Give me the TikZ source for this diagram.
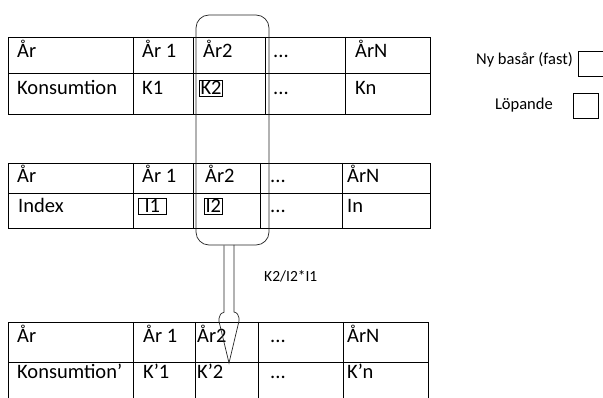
\documentclass[tikz,border=0pt]{standalone}
\usepackage{fontspec}
\setmainfont{Carlito}
\begin{document}
\begin{tikzpicture}[x=1pt,y=-1pt,
  cell/.style={anchor=base west, inner sep=0pt, font=\fontsize{20.5}{24}\selectfont},
  boxed/.style={cell, draw, line width=0.6pt, inner sep=1.2pt},
  legend/.style={anchor=east, inner sep=0pt, font=\fontsize{16.5}{20}\selectfont},
  lbox/.style={draw, line width=0.7pt, minimum width=25pt, minimum height=25pt, inner sep=0pt},
  grid/.style={line width=0.9pt, black},
  thin/.style={line width=0.7pt, black!85}]
\useasboundingbox (0,0) rectangle (603,398);

% ---------- table 1
\draw[grid] (8,37) rectangle (430,114);
\draw[grid] (8,73) -- (430,73);
\foreach \x in {133,193,265,345} \draw[grid] (\x,37) -- (\x,114);
\node[cell] (t1a) at (17,58) {År};
\node[cell] (t1b) at (142,58) {År 1};
\node[cell] (t1c) at (203,58) {År2};
\node[cell] (t1d) at (273,58) {...};
\node[cell] (t1e) at (355,58) {ÅrN};
\node[cell] (t1f) at (17,95) {Konsumtion};
\node[cell] (t1g) at (142,95) {K1};
\node[boxed] (t1h) at (199,95) {K2};
\node[cell] (t1i) at (273,95) {...};
\node[cell] (t1j) at (355,95) {Kn};

% ---------- table 2
\draw[grid] (8,163) rectangle (430,228);
\draw[grid] (8,193) -- (430,193);
\foreach \x in {133,193,260,342} \draw[grid] (\x,163) -- (\x,228);
\node[cell] (t2a) at (17,183) {År};
\node[cell] (t2b) at (142,183) {År 1};
\node[cell] (t2c) at (205,183) {År2};
\node[cell] (t2d) at (270,183) {...};
\node[cell] (t2e) at (347,183) {ÅrN};
\node[cell] (t2f) at (18,213) {Index};
\node[boxed,minimum width=28pt] (t2g) at (138,213) {I1};
\node[boxed] (t2h) at (204,213) {I2};
\node[cell] (t2i) at (270,213) {...};
\node[cell] (t2j) at (347,213) {In};

% ---------- table 3
\draw[grid] (8,400) -- (8,322) -- (428,322) -- (428,400);
\draw[grid] (8,362) -- (428,362);
\foreach \x in {133,195,258,343} \draw[grid] (\x,322) -- (\x,400);
\node[cell] (t3a) at (17,343) {År};
\node[cell] (t3b) at (143,343) {År 1};
\node[cell] (t3c) at (197,343) {År2};
\node[cell] (t3d) at (270,343) {...};
\node[cell] (t3e) at (347,343) {ÅrN};
\node[cell] (t3f) at (17,378) {Konsumtion’};
\node[cell] (t3g) at (143,378) {K’1};
\node[cell] (t3h) at (197,378) {K’2};
\node[cell] (t3i) at (270,378) {...};
\node[cell] (t3j) at (347,378) {K’n};

% ---------- selection and arrow
\node[thin, draw, rounded corners=13pt, minimum width=73pt, minimum height=230pt, inner sep=0pt] (sel) at (232.5,130) {};
\coordinate (tip) at (229,363);
\draw[thin] ([xshift=-5pt]sel.south -| tip) -- ++(0,67) .. controls ++(-4,1) and ++(1,-3) .. ++(-5,6)
  -- ++(0,3) -- (tip) -- ++(10,-42) -- ++(0,-3) .. controls ++(-1,-3) and ++(4,1) .. ++(-5,-6)
  -- ++(0,-67);
\node[anchor=base west, inner sep=0pt, font=\fontsize{15.5}{19}\selectfont] (lab) at (264,282) {K2/I2*I1};

% ---------- legend
\node[lbox] (lb1) at (590.5,64) {};
\node[legend] (lt1) at (573,60) {Ny basår (fast)};
\node[lbox] (lb2) at (585.5,106) {};
\node[legend] (lt2) at (553,105) {Löpande};
\end{tikzpicture}
\end{document}
